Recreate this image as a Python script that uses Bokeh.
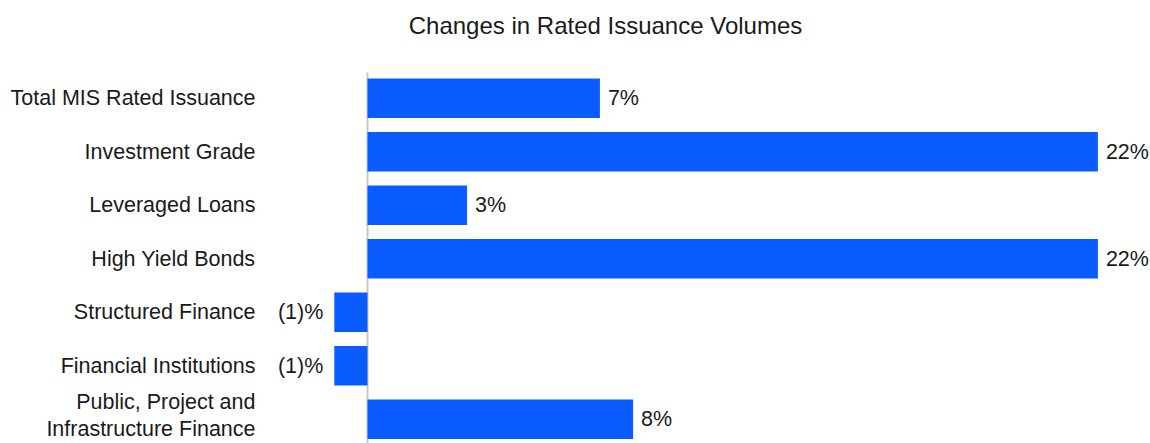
from bokeh.plotting import figure
from bokeh.models import Range1d, ColumnDataSource, Label
from bokeh.core.properties import value
from bokeh.embed import file_html
from bokeh.resources import INLINE

categories = ["Total MIS Rated Issuance", "Investment Grade", "Leveraged Loans",
              "High Yield Bonds", "Structured Finance", "Financial Institutions",
              "Public, Project and\nInfrastructure Finance"]
changes = [7, 22, 3, 22, -1, -1, 8]
value_labels = ["7%", "22%", "3%", "22%", "(1)%", "(1)%", "8%"]
title_text = "Changes in Rated Issuance Volumes"

FONT = "Liberation Sans"
BLUE = "#0a5cff"

W, H = 1150, 443
idx = list(range(len(categories)))
pos = [v >= 0 for v in changes]

src = ColumnDataSource(dict(
    y=idx, cat=categories, v=changes, lab=value_labels,
    lab_off=[8 if p_ else -11 for p_ in pos],
    lab_align=["left" if p_ else "right" for p_ in pos],
    cat_yoff=[-4 if "\n" in c else 0 for c in categories],
))

px_per_unit = 33.2
zero_px = 367
x_start = -zero_px / px_per_unit
x_end = (W - zero_px) / px_per_unit
band = 53.5
first_c = 97.8
y_top = -first_c / band
y_bot = (H - first_c) / band

p = figure(width=W, height=H, output_backend="svg", toolbar_location=None,
           x_range=Range1d(x_start, x_end), y_range=Range1d(y_bot, y_top),
           min_border=0, outline_line_color=None)
p.axis.visible = False
p.grid.visible = False
p.background_fill_color = "white"
p.border_fill_color = "white"

p.segment(x0=0, y0=-0.48, x1=0, y1=len(categories), line_color="#c8c8c8", line_width=2)

p.hbar(y="y", left=0, right="v", height=0.74, source=src, fill_color=BLUE, line_color=None)

p.text(x="v", y="y", text="lab", x_offset="lab_off", text_align="lab_align",
       text_baseline="middle", text_font=value(FONT), text_font_size="21.5px",
       text_color="#1a1a1a", source=src)

p.text(x=0, y="y", text="cat", x_offset=-112, y_offset="cat_yoff", text_align="right",
       text_baseline="middle", text_font=value(FONT), text_font_size="21.5px",
       text_color="#1a1a1a", text_line_height=1.15, source=src)

p.add_layout(Label(x=605, y=H - 25, x_units="screen", y_units="screen", text=title_text,
                   text_align="center", text_baseline="middle", text_font=FONT,
                   text_font_size="24px", text_color="#1a1a1a"))

open("out.html", "w").write(file_html(p, INLINE))
